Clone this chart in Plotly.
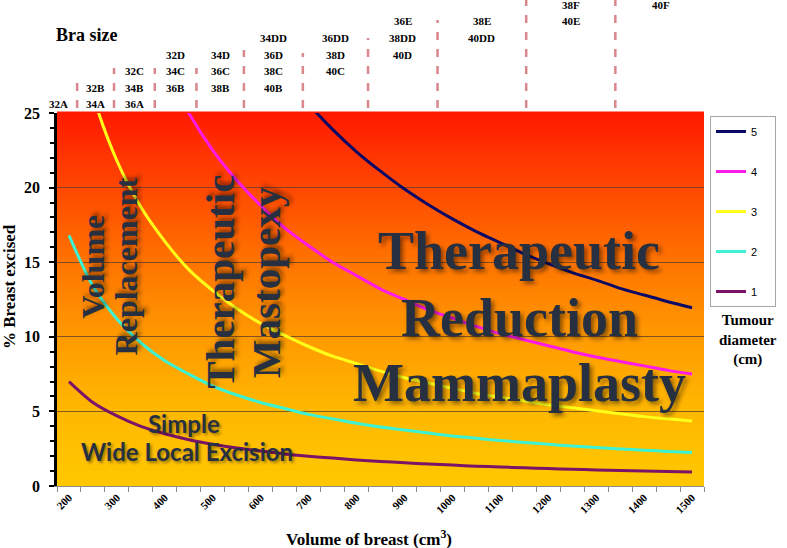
import plotly.graph_objects as go
from plotly.colors import sample_colorscale

# ---------------- data ----------------
volume = [200, 250, 300, 350, 400, 450, 500, 550, 600, 650, 700, 750, 800, 850,
          900, 950, 1000, 1050, 1100, 1150, 1200, 1250, 1300, 1350, 1400, 1450, 1500]

pct_d1 = [7.0, 5.6, 4.7, 4.0, 3.5, 3.1, 2.8, 2.55, 2.35, 2.15, 2.0, 1.87, 1.75, 1.65,
          1.56, 1.47, 1.4, 1.33, 1.27, 1.22, 1.17, 1.12, 1.08, 1.04, 1.0, 0.97, 0.93]
pct_d2 = [16.8, 13.4, 11.2, 9.6, 8.4, 7.5, 6.7, 6.1, 5.6, 5.2, 4.8, 4.5, 4.2, 3.95,
          3.75, 3.55, 3.35, 3.2, 3.05, 2.92, 2.8, 2.68, 2.58, 2.48, 2.4, 2.32, 2.24]
pct_d3 = [32.7, 26.2, 21.8, 18.7, 16.4, 14.5, 13.1, 11.9, 10.9, 10.1, 9.35, 8.7, 8.2, 7.7,
          7.25, 6.9, 6.55, 6.2, 5.95, 5.7, 5.45, 5.25, 5.05, 4.85, 4.65, 4.5, 4.36]
pct_d4 = [None, None, None, None, 28.1, 25.0, 22.5, 20.5, 18.8, 17.3, 16.1, 15.0, 14.1, 13.2,
          12.5, 11.8, 11.25, 10.7, 10.2, 9.8, 9.4, 9.0, 8.65, 8.35, 8.05, 7.75, 7.5]
pct_d5 = [None, None, None, None, None, None, None, None, None, 27.5, 25.6, 23.9, 22.4, 21.1,
          19.9, 18.85, 17.9, 17.05, 16.3, 15.55, 14.9, 14.3, 13.8, 13.25, 12.8, 12.35, 11.95]

# legend order: 5 at the top
series = [("5", pct_d5), ("4", pct_d4), ("3", pct_d3), ("2", pct_d2), ("1", pct_d1)]

x_tick_vals = [200, 300, 400, 500, 600, 700, 800, 900, 1000, 1100, 1200, 1300, 1400, 1500]
y_tick_vals = [0, 5, 10, 15, 20, 25]

# bra size bands along the volume axis (boundaries) and their labels
bra_bounds = [141, 217, 294, 379, 466, 565, 688, 824, 969, 1154, 1340, 1530]
bra_labels = [["32A"], ["32B", "34A"], ["32C", "34B", "36A"], ["32D", "34C", "36B"],
              ["34D", "36C", "38B"], ["34DD", "36D", "38C", "40B"], ["36DD", "38D", "40C"],
              ["36E", "38DD", "40D"], ["38E", "40DD"], ["38F", "40E"], ["40F"]]
bra_bottom_row = [0, 0, 0, 1, 1, 1, 2, 3, 4, 5, 6]

# ---------------- layout helpers ----------------
W, H = 787, 548
ML, MR, MT, MB = 57, 82, 113, 62
PW, PH = W - ML - MR, H - MT - MB


def pxx(x):
    return (x - ML) / PW


def pxy(y):
    return (H - MB - y) / PH


line_colors = {"1": "#7A1468", "2": "#3DF2D2", "3": "#FFFF1A", "4": "#FF1AE8", "5": "#0A0A66"}

fig = go.Figure()
for name, vals in series:
    fig.add_trace(go.Scatter(
        x=volume, y=vals, name=name + "\u00a0\u00a0\u00a0\u00a0", mode="lines", legendgroup=name,
        line=dict(color=line_colors[name], width=3, shape="spline", smoothing=0.8),
        hoverinfo="skip"))

shapes = []
# gradient background
grad = [[0.0, "rgb(255,200,0)"], [0.2, "rgb(255,184,0)"], [0.4, "rgb(255,154,0)"],
        [0.6, "rgb(255,116,0)"], [0.8, "rgb(255,72,0)"], [1.0, "rgb(255,26,0)"]]
n = 120
cols = sample_colorscale(grad, [(i + 0.5) / n for i in range(n)])
for i in range(n):
    shapes.append(dict(type="rect", xref="paper", yref="paper", x0=0, x1=1,
                       y0=i / n, y1=(i + 1) / n + 0.004, fillcolor=cols[i],
                       line=dict(width=0), layer="below"))

# bra size separators
sep_tops = [83, 68, 68, 68, 50, 53, 38, 20, -4, -4]
for b, top in zip(bra_bounds[1:-1], sep_tops):
    shapes.append(dict(type="line", xref="x", yref="paper", x0=b, x1=b,
                       y0=pxy(108), y1=pxy(top),
                       line=dict(color="#D9868C", width=2.5, dash="8px,9px")))

annotations = []
serif = "Liberation Serif"
dark = "#263040"


def ann(text, x, y, font, xref="paper", angle=0):
    annotations.append(dict(x=x, y=y, xref=xref, yref="paper", text=text, showarrow=False,
                            xanchor="center", yanchor="middle", textangle=angle, font=font))


row_y = lambda k: 104 - 16.5 * k
for i, labs in enumerate(bra_labels):
    center = (bra_bounds[i] + bra_bounds[i + 1]) / 2
    nrows = len(labs)
    for j, lab in enumerate(labs):
        k = bra_bottom_row[i] + (nrows - 1 - j)
        ann(lab, center, pxy(row_y(k)),
            dict(family=serif, size=11, color="black", weight="bold"), xref="x")

ann("Bra size", pxx(86.5), pxy(35), dict(family=serif, size=18, color="black", weight="bold"))

big_shadow = "3px 3px 4px rgba(0,0,0,0.45)"
for txt, cy in [("Therapeutic", 251), ("Reduction", 318), ("Mammaplasty", 383)]:
    ann(txt, pxx(520), pxy(cy),
        dict(family=serif, size=54, color=dark, weight="bold", shadow=big_shadow))

for txt, cx, cy, sz in [("Volume", 93.5, 266, 32), ("Replacement", 126, 266.5, 32),
                        ("Therapeutic", 220, 282, 41), ("Mastopexy", 266, 282.5, 41)]:
    ann(txt, pxx(cx), pxy(cy),
        dict(family=serif, size=sz, color=dark, weight="bold", shadow=big_shadow), angle=-90)

for txt, cx, cy in [("Simple", 184.5, 423), ("Wide Local Excision", 187, 451)]:
    ann(txt, pxx(cx), pxy(cy),
        dict(family="Lato", size=24, color=dark, weight="bold",
             shadow="2px 2px 3px rgba(0,0,0,0.4)"))

ann("% Breast excised", pxx(9), pxy(287),
    dict(family=serif, size=17, color="black", weight="bold"), angle=-90)
ann("Volume of breast (cm<sup>3</sup>)", pxx(369), pxy(538),
    dict(family=serif, size=17, color="black", weight="bold"))
ann("Tumour<br>diameter<br>(cm)", pxx(749), pxy(340),
    dict(family=serif, size=15, color="black", weight="bold"))

minor_x = [v - 25 for v in volume] + [volume[-1] + 25]

fig.update_layout(
    width=W, height=H, autosize=False,
    margin=dict(l=ML, r=MR, t=MT, b=MB),
    paper_bgcolor="white", plot_bgcolor="rgb(255,160,0)",
    showlegend=True,
    legend=dict(x=pxx(710), y=pxy(116), xanchor="left", yanchor="top",
                bgcolor="white", bordercolor="#A6A6A6", borderwidth=1,
                font=dict(family="Liberation Sans", size=11, color="black"),
                traceorder="grouped", tracegroupgap=21, itemwidth=30),
    xaxis=dict(range=[175, 1525], tickmode="array", tickvals=x_tick_vals,
               ticktext=[str(v) for v in x_tick_vals], tickangle=-45,
               ticks="outside", ticklen=0, showgrid=False, zeroline=False,
               showline=True, linecolor="#8C8C8C", linewidth=1,
               minor=dict(tickmode="array", tickvals=minor_x, ticks="outside", ticklen=5,
                          tickcolor="#8C8C8C", showgrid=False),
               tickfont=dict(family=serif, size=11, color="black", weight="bold"),
               fixedrange=True),
    yaxis=dict(range=[0, 25], tickmode="array", tickvals=y_tick_vals,
               ticks="outside", ticklen=5, tickwidth=1.5, tickcolor="black",
               minor=dict(dtick=1, tick0=0, ticks="outside", ticklen=4, tickcolor="black",
                          showgrid=False),
               showline=True, linecolor="black", linewidth=2.5,
               showgrid=True, gridcolor="rgba(90,60,40,0.75)", gridwidth=1, zeroline=False,
               tickfont=dict(family=serif, size=16, color="black", weight="bold"),
               ticklabelstandoff=6, fixedrange=True),
    shapes=shapes,
    annotations=annotations,
)

fig.write_html("out.html", config={"displayModeBar": False},
               post_script="document.body.style.margin='0px';")
